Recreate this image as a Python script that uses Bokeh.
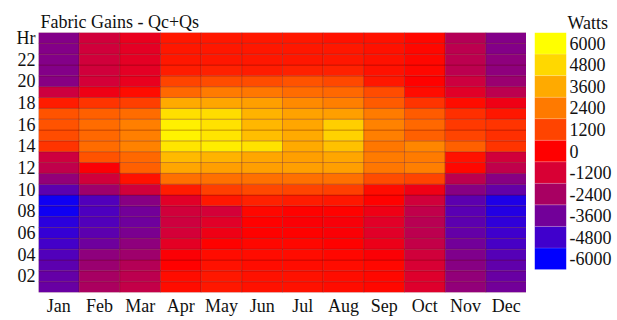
from bokeh.plotting import figure
from bokeh.models import ColumnDataSource, LinearColorMapper, FixedTicker, Range1d
from bokeh.layouts import row
from bokeh.transform import transform
from bokeh.embed import file_html
from bokeh.resources import INLINE

months = ["Jan", "Feb", "Mar", "Apr", "May", "Jun", "Jul", "Aug", "Sep", "Oct", "Nov", "Dec"]
hours = list(range(1, 25))

# values per month, hour 1 .. hour 24 (Watts)
jan = [-3800, -3900, -4100, -4400, -4700, -5000, -5200, -5700, -5700, -4100, -2900, -1800,
       -1500, 900, 1400, 1500, 1500, 500, -1500, -3100, -3200, -3200, -3200, -3200]
feb = [-2300, -2400, -2700, -3000, -3700, -4100, -4400, -4500, -4400, -2600, -1400, -100,
       1500, 2100, 2000, 2100, 1800, 900, -500, -1300, -1400, -1400, -1400, -1400]
mar = [-1700, -1900, -2100, -2600, -3000, -3400, -3700, -3600, -3100, -1400, 300, 1800,
       2000, 2600, 2500, 2500, 2100, 1100, 200, -700, -800, -800, -800, -700]
apr = [200, 200, 0, -100, -800, -1300, -1500, -1400, -900, 500, 2200, 3500,
       4000, 5200, 5600, 5500, 5000, 3600, 2000, 1200, 500, 400, 400, 400]
may = [400, 400, 300, 200, 0, -500, -900, -1300, 400, 1100, 2200, 3300,
       3800, 5400, 5200, 5100, 4900, 3500, 2400, 1400, 600, 400, 400, 400]
jun = [300, 300, 200, 200, 100, 0, 0, 100, 600, 1300, 2200, 3300,
       3500, 5100, 4100, 3900, 3800, 3300, 2300, 1400, 500, 400, 400, 400]
jul = [300, 300, 200, 200, 100, 0, -100, 0, 500, 1200, 2200, 3300,
       3300, 3600, 3600, 3500, 3400, 2800, 2100, 1500, 600, 400, 400, 400]
aug = [200, 200, 200, 100, 0, -100, -200, 0, 400, 1100, 2200, 3300,
       3500, 4200, 4600, 4500, 3300, 2500, 2000, 1300, 600, 400, 400, 300]
sep = [100, 100, 100, -100, -600, -900, -900, -500, 0, 200, 1400, 2300,
       2400, 2300, 2500, 2600, 2400, 1700, 1400, 400, 300, 300, 300, 300]
oct_ = [-1000, -1000, -1200, -1400, -1700, -1900, -2000, -1800, -1400, -500, 1200, 2500,
        2400, 2700, 1800, 2000, 1700, 900, 200, 0, 100, 100, 100, 100]
nov = [-2900, -2900, -3100, -3300, -3600, -3900, -4100, -4200, -4100, -3100, -1900, 100,
       300, 1800, 1200, 1000, 800, 200, -900, -1500, -1900, -1900, -1900, -2100]
dec = [-3600, -3800, -4000, -4300, -4600, -4800, -5100, -5300, -5400, -3900, -3100, -1800,
       -1400, 900, 800, 900, 400, -500, -1900, -2700, -3000, -3000, -3200, -3200]

y_ticks = [2, 4, 6, 8, 10, 12, 14, 16, 18, 20, 22, 24]
y_tick_labels = ["02", "04", "06", "08", "10", "12", "14", "16", "18", "20", "22", "Hr"]

legend_ticks = [-6000, -4800, -3600, -2400, -1200, 0, 1200, 2400, 3600, 4800, 6000]
legend_labels = ["-6000", "-4800", "-3600", "-2400", "-1200", "0",
                 "1200", "2400", "3600", "4800", "6000"]
legend_colors = ["#0000FF", "#4000CC", "#720099", "#A80062", "#D80034", "#FF0000",
                 "#FF4400", "#FF7A00", "#FFAA00", "#FFD800", "#FFFF00"]

# continuous palette interpolated between legend colours
def _hex(c):
    return [int(c[i:i + 2], 16) for i in (1, 3, 5)]

palette = []
n = 256
for k in range(n):
    t = k / (n - 1) * (len(legend_colors) - 1)
    i = min(int(t), len(legend_colors) - 2)
    f = t - i
    a, b = _hex(legend_colors[i]), _hex(legend_colors[i + 1])
    palette.append("#%02x%02x%02x" % tuple(round(a[j] + (b[j] - a[j]) * f) for j in range(3)))

series = [jan, feb, mar, apr, may, jun, jul, aug, sep, oct_, nov, dec]
xs, ys, vs = [], [], []
for m, vals in zip(months, series):
    for h, v in zip(hours, vals):
        xs.append(m)
        ys.append(h)
        vs.append(v)
source = ColumnDataSource(dict(month=xs, hour=ys, value=vs))

mapper = LinearColorMapper(palette=palette, low=-6000, high=6000)

FONT = "Liberation Serif"
FS = "18px"
TOP, FRAME_H, BOTTOM = 32, 260, 26

p = figure(x_range=months, y_range=Range1d(0.5, 24.5), width=526, height=TOP + FRAME_H + BOTTOM,
           min_border_left=38, min_border_right=0, min_border_top=TOP, min_border_bottom=BOTTOM,
           output_backend="svg", toolbar_location=None, title="Fabric Gains - Qc+Qs")
p.rect(x="month", y="hour", width=1, height=1, source=source,
       fill_color=transform("value", mapper), line_color="#5a0000", line_alpha=0.25, line_width=1)

p.title.text_font = FONT
p.title.text_font_size = FS
p.title.text_font_style = "normal"
p.title.text_color = "#111111"
p.title.align = "left"
p.title.offset = 2
p.title.standoff = 2

p.outline_line_color = None
p.grid.grid_line_color = None
for ax in (p.xaxis, p.yaxis):
    ax.axis_line_color = None
    ax.major_tick_line_color = None
    ax.minor_tick_line_color = None
    ax.major_tick_out = 0
    ax.major_tick_in = 0
    ax.minor_tick_out = 0
    ax.minor_tick_in = 0
    ax.major_label_text_font = FONT
    ax.major_label_text_font_size = FS
    ax.major_label_text_color = "#111111"
p.xaxis.major_label_standoff = 3
p.yaxis.major_label_standoff = 3
p.yaxis.ticker = FixedTicker(ticks=y_ticks)
p.yaxis.major_label_overrides = {t: lab for t, lab in zip(y_ticks, y_tick_labels)}

# legend as a separate small figure; its frame is aligned to the main frame,
# and the 11 colour bands fill the top 237 px of it
band_px = 237
leg_top = 6600
leg_bottom = leg_top - FRAME_H * 13200 / band_px
leg = figure(x_range=Range1d(0, 1), y_range=Range1d(leg_bottom, leg_top), width=89,
             height=TOP + FRAME_H + BOTTOM,
             min_border_left=8, min_border_right=49, min_border_top=TOP, min_border_bottom=BOTTOM,
             x_axis_location=None, y_axis_location="right",
             output_backend="svg", toolbar_location=None, title="Watts")
leg.rect(x=0.5, y=legend_ticks, width=1, height=1200, fill_color=legend_colors,
         line_color="#ffffff", line_alpha=0.15)
leg.outline_line_color = None
leg.grid.grid_line_color = None
leg.yaxis.ticker = FixedTicker(ticks=legend_ticks)
leg.yaxis.major_label_overrides = {t: lab for t, lab in zip(legend_ticks, legend_labels)}
leg.yaxis.axis_line_color = None
leg.yaxis.major_tick_line_color = None
leg.yaxis.minor_tick_line_color = None
leg.yaxis.major_tick_out = 0
leg.yaxis.major_tick_in = 0
leg.yaxis.minor_tick_out = 0
leg.yaxis.minor_tick_in = 0
leg.yaxis.major_label_text_font = FONT
leg.yaxis.major_label_text_font_size = FS
leg.yaxis.major_label_text_color = "#111111"
leg.yaxis.major_label_standoff = 3
leg.title.text_font = FONT
leg.title.text_font_size = FS
leg.title.text_font_style = "normal"
leg.title.text_color = "#111111"
leg.title.align = "left"
leg.title.offset = 33
leg.title.standoff = 0

layout = row(p, leg)
open("out.html", "w").write(file_html(layout, INLINE))
